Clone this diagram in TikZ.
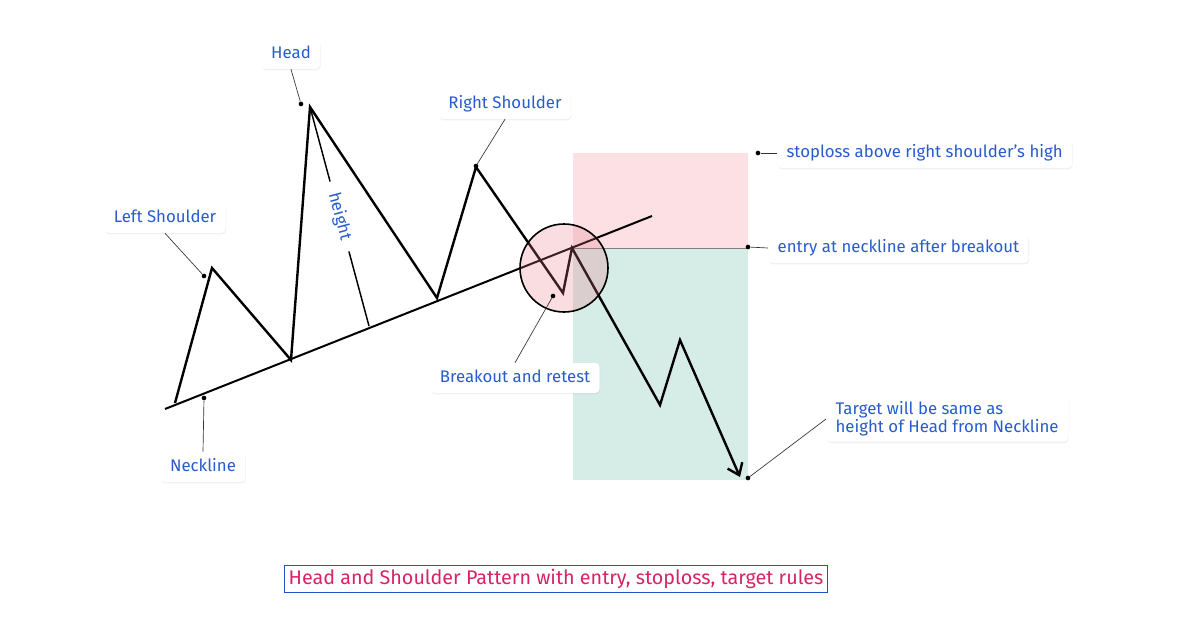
\documentclass[tikz,border=0pt]{standalone}
\usepackage{fontspec}
\setmainfont{Fira Sans}
\usetikzlibrary{arrows.meta,shadows,positioning}
\definecolor{lblblue}{RGB}{40,92,205}
\definecolor{titlered}{RGB}{214,36,100}
\definecolor{titleblue}{RGB}{35,80,200}
\definecolor{slred}{RGB}{252,224,228}
\definecolor{tpgreen}{RGB}{214,236,231}
\definecolor{ringred}{RGB}{235,120,135}

\begin{document}
\begin{tikzpicture}[x=0.75pt, y=-0.75pt, >={Straight Barb[length=8pt,width=12pt]},
    lbl/.style={fill=white, rounded corners=3pt, text=lblblue, font=\fontsize{12.6}{13.5}\selectfont,
        text height=9.5pt, text depth=3pt, inner xsep=7pt, inner ysep=5pt,
        drop shadow={shadow xshift=0.4pt, shadow yshift=-1pt, opacity=0.12}},
    pin/.style={circle, fill=black, inner sep=0pt, minimum size=3.5pt},
    lead/.style={draw=black!80, line width=0.5pt},
    price/.style={line width=1.8pt, line join=miter}]
    \useasboundingbox (0,0) rectangle (1194,624);
    % Stoploss and target zones
    \fill[slred] (573,153) rectangle (748,248);
    \fill[tpgreen] (573,248) rectangle (748,480);
    \draw[gray, line width=0.5pt] (573,248) -- (748,248);
    % Price swings
    \coordinate (p0) at (175,403);
    \coordinate (ls) at (212,268);
    \coordinate (t1) at (291,360);
    \coordinate (hd) at (310,107);
    \coordinate (t2) at (437,298);
    \coordinate (rs) at (476,167);
    \coordinate (rt) at (563,293);
    \coordinate (br) at (572,248);
    \coordinate (d1) at (660,405);
    \coordinate (u1) at (680,340);
    \coordinate (tg) at (740,477);
    % Neckline
    \coordinate (nk0) at (165,409);
    \coordinate (nk1) at (652,216);
    \draw[line width=1.5pt] (nk0) -- (nk1);
    \draw[price, ->] (p0) -- (ls) -- (t1) -- (hd) -- (t2) -- (rs) -- (rt) -- (br) -- (d1) -- (u1) -- (tg);
    % Height of the head
    \coordinate (hb) at (369,326);
    \draw[line width=1.1pt] (hd) -- node[sloped, fill=white, text=lblblue, font=\fontsize{12.6}{13.5}\selectfont, inner xsep=9pt, inner ysep=1pt] (hgt) {height} (hb);
    % Breakout and retest ring
    \node[circle, draw, line width=1.2pt, fill=ringred, fill opacity=0.25, minimum size=66pt] (ring) at (564,268) {};
    % Labels
    \node[lbl] (head) at (291,54) {Head};
    \node[lbl] (rsh) at (505,104) {Right Shoulder};
    \node[lbl] (lsh) at (165,218) {Left Shoulder};
    \node[lbl] (neck) at (203,467) {Neckline};
    \node[lbl] (brk) at (515,378) {Breakout and retest};
    \node[lbl, anchor=west] (stop) at (777,153) {stoploss above right shoulder's high};
    \node[lbl, anchor=west, align=left, text height=, text depth=, inner ysep=4pt] (tgt) at (826,419) {Target will be same as\\height of Head from Neckline};
    \node[lbl, anchor=west] (entry) at (768,248) {entry at neckline after breakout};
    % Pins
    \node[pin] (hdpin) at (301,104) {};
    \node[pin] (rspin) at (476,166) {};
    \node[pin] (lspin) at (204,276) {};
    \node[pin] (nkpin) at (204,398) {};
    \node[pin] (brpin) at (553,296) {};
    \node[pin] (stpin) at (758,153) {};
    \node[pin] (enpin) at (748,247) {};
    \node[pin] (tgpin) at (748,478) {};
    % Leaders
    \draw[lead] (head.south) -- (hdpin);
    \draw[lead] (rsh.south) -- (rspin);
    \draw[lead] (lsh.south) -- (lspin);
    \draw[lead] (neck.north) -- (nkpin);
    \draw[lead] (brk.north) -- (brpin);
    \draw[lead] (stpin) -- (stop.west);
    \draw[lead] (enpin) -- (entry.west);
    \draw[lead] (tgpin) -- (tgt.west);
    % Title
    \node[draw=titleblue, line width=1pt, text=titlered, font=\fontsize{14.8}{16}\selectfont, inner xsep=3pt, inner ysep=3pt] (title) at (556,579) {Head and Shoulder Pattern with entry, stoploss, target rules};
\end{tikzpicture}
\end{document}
